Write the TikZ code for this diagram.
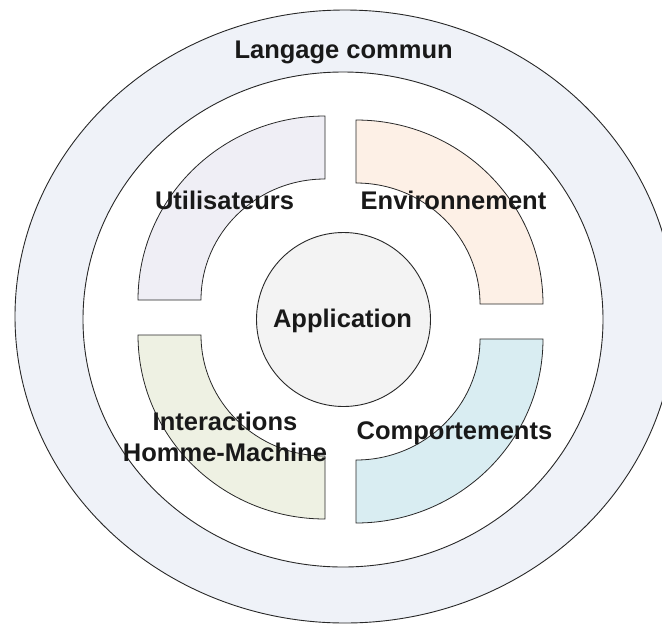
\documentclass[tikz,border=0pt]{standalone}
\usepackage{fontspec}
\setmainfont{Liberation Sans}
\usetikzlibrary{shapes.geometric,positioning}
\definecolor{ringblue}{RGB}{239,242,248}
\definecolor{utilgray}{RGB}{239,238,245}
\definecolor{envpeach}{RGB}{253,240,230}
\definecolor{ihmgreen}{RGB}{238,241,227}
\definecolor{compblue}{RGB}{217,237,242}
\definecolor{appgray}{RGB}{243,243,243}
\definecolor{edge}{RGB}{40,40,40}
\tikzstyle{ring} = [ellipse, draw=edge, line width=0.9pt, inner sep=0pt]
\tikzstyle{core} = [circle, draw=edge, line width=0.9pt, fill=appgray, minimum size=174pt, inner sep=0pt]
\tikzstyle{quart} = [draw=edge, line width=0.8pt]
\tikzstyle{lbl} = [text=black!90, font=\bfseries\fontsize{25.5}{31}\selectfont, inner sep=0pt, anchor=base]

\begin{document}
\begin{tikzpicture}[x=1pt,y=-1pt]
\useasboundingbox (0,0) rectangle (662,625);

% rings =============================

\node[ring, fill=ringblue, minimum width=660pt, minimum height=613pt] (commun) at (345,316.5) {};
\node[ring, fill=white, minimum width=520pt, minimum height=495pt] (inner) at (343,319.5) {};

% quarters =============================

% upper left
\draw[quart, fill=utilgray] (325,116) arc[start angle=270, end angle=180, x radius=187, y radius=184]
  -- (201,300) arc[start angle=180, end angle=270, x radius=124, y radius=121] -- cycle;
% upper right
\draw[quart, fill=envpeach] (356,120) arc[start angle=270, end angle=360, x radius=187, y radius=184]
  -- (480,304) arc[start angle=0, end angle=-90, x radius=124, y radius=121] -- cycle;
% lower right
\draw[quart, fill=compblue] (543,339) arc[start angle=0, end angle=90, x radius=187, y radius=184]
  -- (356,460) arc[start angle=90, end angle=0, x radius=124, y radius=121] -- cycle;
% lower left
\draw[quart, fill=ihmgreen] (138,335) arc[start angle=180, end angle=90, x radius=187, y radius=184]
  -- (325,456) arc[start angle=90, end angle=180, x radius=124, y radius=121] -- cycle;

% center
\node[core] (app) at (343.5,319.5) {};

% labels =============================

\node[lbl] (langage) at (343.6,58) {Langage commun};
\node[lbl] (util) at (224.5,209) {Utilisateurs};
\node[lbl] (env) at (453.5,209) {Environnement};
\node[lbl] (appli) at (342.5,327) {Application};
\node[lbl] (inter) at (225,430) {Interactions};
\node[lbl, below=31pt of inter.base, anchor=base] (homme) {Homme-Machine};
\node[lbl] (comp) at (454.5,439) {Comportements};

\end{tikzpicture}
\end{document}
